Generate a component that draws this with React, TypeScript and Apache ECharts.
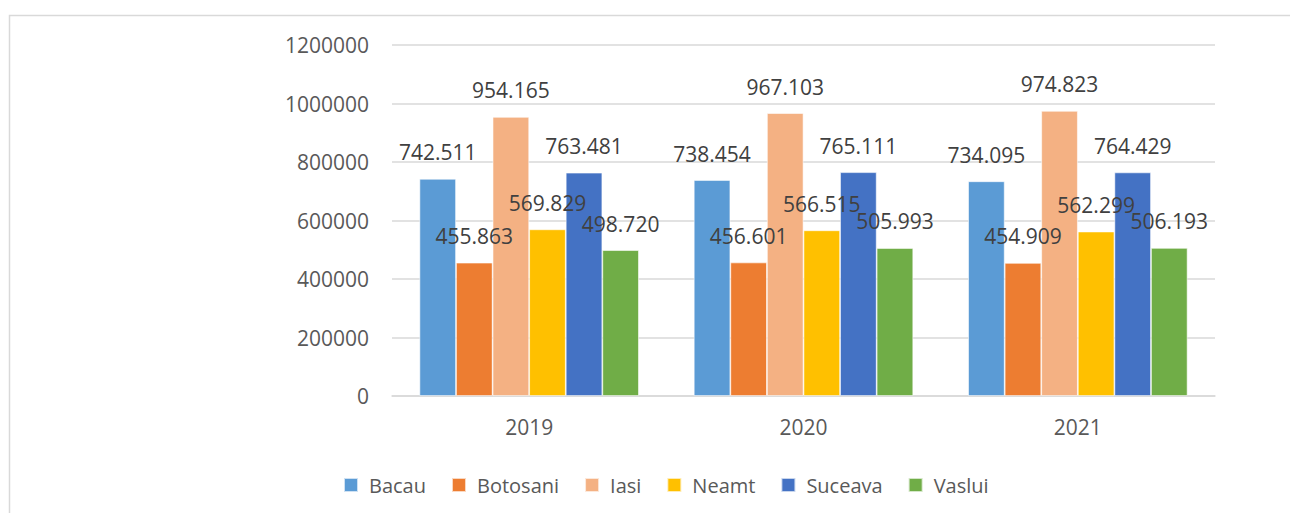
import React, { useEffect, useRef } from "react";
import * as echarts from "echarts";

const categories = ["2019", "2020", "2021"];
const seriesNames = ["Bacau", "Botosani", "Iasi", "Neamt", "Suceava", "Vaslui"];
const bacau = [742511, 738454, 734095];
const botosani = [455863, 456601, 454909];
const iasi = [954165, 967103, 974823];
const neamt = [569829, 566515, 562299];
const suceava = [763481, 765111, 764429];
const vaslui = [498720, 505993, 506193];
const seriesValues = [bacau, botosani, iasi, neamt, suceava, vaslui];
const colors = ["#5B9BD5", "#ED7D31", "#F4B183", "#FFC000", "#4472C4", "#70AD47"];

const FONT = "'Open Sans', 'Liberation Sans', sans-serif";
const fmt = (v: number) => String(v).replace(/\B(?=(\d{3})+(?!\d))/g, ".");

export default function App() {
  const ref = useRef<HTMLDivElement>(null);
  useEffect(() => {
    if (!ref.current) return;
    const chart = echarts.init(ref.current, undefined, { renderer: "svg" });
    chart.setOption({
      animation: false,
      backgroundColor: "#ffffff",
      color: colors,
      graphic: [
        {
          type: "polyline",
          shape: { points: [[9.5, 520], [9.5, 15.5], [1300, 15.5]] },
          style: { fill: "none", stroke: "#d9d9d9", lineWidth: 1.5 },
          silent: true,
          z: -1,
        },
      ],
      grid: { left: 392, right: 75, top: 45, bottom: 117 },
      legend: {
        data: seriesNames,
        left: 338,
        top: 470,
        icon: "rect",
        itemWidth: 14,
        itemHeight: 14,
        itemGap: 25,
        textStyle: { fontFamily: FONT, fontSize: 20, color: "#595959", padding: [0, 0, 0, 6] },
      },
      xAxis: {
        type: "category",
        data: categories,
        axisLine: { lineStyle: { color: "#d9d9d9", width: 1.5 } },
        axisTick: { show: false },
        axisLabel: { fontFamily: FONT, fontSize: 21, color: "#595959", margin: 20 },
      },
      yAxis: {
        type: "value",
        min: 0,
        max: 1200000,
        interval: 200000,
        axisLine: { show: false },
        axisTick: { show: false },
        splitLine: { lineStyle: { color: "#d9d9d9", width: 1.5 } },
        axisLabel: {
          fontFamily: FONT,
          fontSize: 21,
          color: "#595959",
          margin: 23,
          formatter: (v: number) => String(v),
        },
      },
      series: seriesNames.map((name, i) => ({
        name,
        type: "bar",
        data: seriesValues[i],
        barGap: "0%",
        barCategoryGap: "20%",
        itemStyle: { color: colors[i], borderColor: "rgba(255,255,255,0.7)", borderWidth: 0.8 },
        label: {
          show: true,
          position: "top",
          distance: 16,
          fontFamily: FONT,
          fontSize: 21,
          color: "#404040",
          formatter: (p: any) => fmt(p.value),
        },
      })),
    });
    return () => chart.dispose();
  }, []);
  return (
    <div
      ref={ref}
      style={{ position: "absolute", left: 0, top: 0, width: 1290, height: 513 }}
    />
  );
}
